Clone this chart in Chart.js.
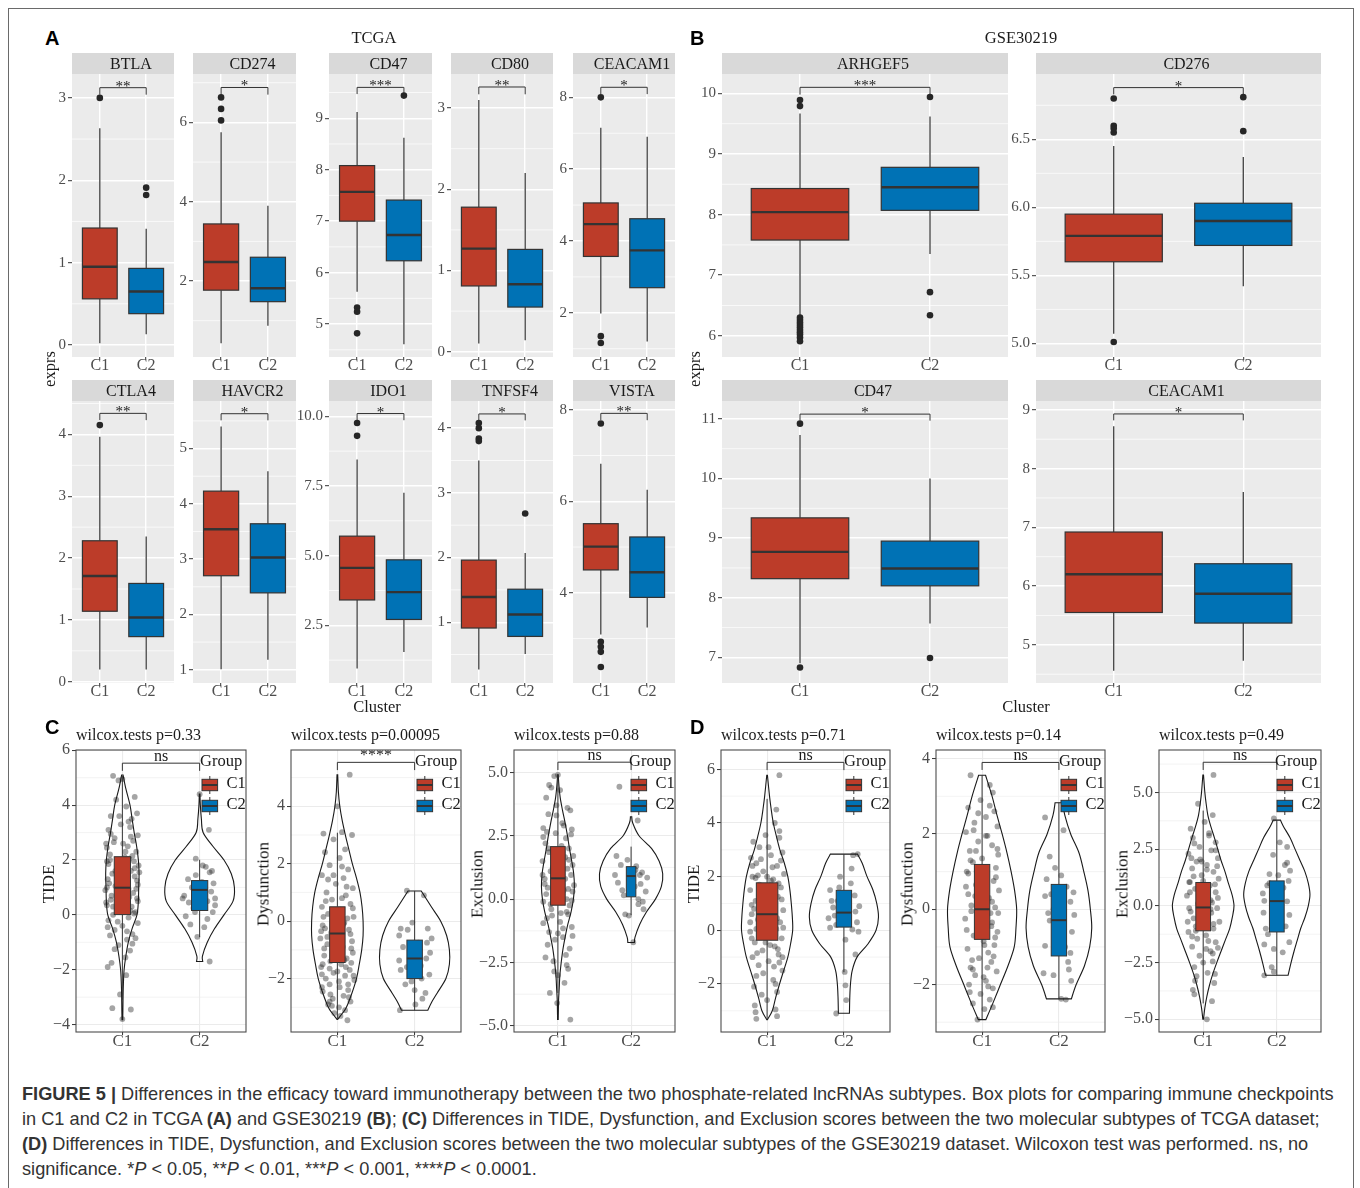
<!DOCTYPE html>
<html><head><meta charset="utf-8">
<script src="https://cdn.jsdelivr.net/npm/chart.js@4.4.1/dist/chart.umd.min.js"></script>
<style>
body{margin:0;width:1360px;height:1188px;background:#fff;position:relative;overflow:hidden;}
canvas{position:absolute;}
.t{position:absolute;white-space:nowrap;line-height:1;}
#frame{position:absolute;left:8px;top:8px;width:1346px;height:1200px;border:1.5px solid #6a6a6a;box-sizing:border-box;}
</style></head><body>
<div id="frame"></div>
<script>
// ================= DATA =================
const clusters = ['C1','C2'];
const clusterColors = ['#BC3C29','#0072B5'];

// ---- Panel A (TCGA) : box stats = [lower whisker, Q1, median, Q3, upper whisker]
const genesA = ['BTLA','CD274','CD47','CD80','CEACAM1','CTLA4','HAVCR2','IDO1','TNFSF4','VISTA'];
const boxA_C1 = [[0.02,0.56,0.95,1.42,2.63],[0.43,1.77,2.48,3.44,5.75],[5.63,7.0,7.57,8.08,9.12],[0.1,0.81,1.27,1.78,3.1],[1.98,3.57,4.47,5.06,7.15],
                 [0.2,1.14,1.71,2.28,3.96],[1.01,2.7,3.54,4.23,5.4],[0.95,3.41,4.56,5.7,8.45],[0.27,0.91,1.39,1.96,3.5],[3.09,4.5,5.01,5.51,6.82]];
const boxA_C2 = [[0.13,0.38,0.65,0.93,1.41],[0.87,1.48,1.82,2.6,3.9],[4.61,6.23,6.73,7.41,8.62],[0.14,0.55,0.83,1.26,2.2],[1.2,2.7,3.74,4.62,6.9],
                 [0.2,0.73,1.04,1.59,2.35],[1.18,2.39,3.03,3.64,4.59],[1.54,2.71,3.69,4.85,7.26],[0.51,0.78,1.12,1.51,2.07],[3.24,3.9,4.45,5.22,6.25]];
const outA_C1 = [[3.0],[6.63,6.34,6.05],[5.32,5.24,4.82],[],[8.0,1.35,1.16],[4.15],[],[9.76,9.3],[4.08,4.0,3.84,3.8],[7.7,2.93,2.82,2.71,2.38]];
const outA_C2 = [[1.91,1.82],[],[9.44],[],[],[],[],[],[2.68],[]];
const sigA = ['**','*','***','**','*','**','*','*','*','**'];
const rangeA = [[-0.146,3.29],[0.085,7.22],[4.36,9.86],[-0.065,3.42],[0.77,8.65],[-0.02,4.54],[0.76,5.86],[0.43,10.55],[0.06,4.42],[2.03,8.19]];
const ticksA = [[0,1,2,3],[2,4,6],[5,6,7,8,9],[0,1,2,3],[2,4,6,8],[0,1,2,3,4],[1,2,3,4,5],[2.5,5,7.5,10],[1,2,3,4],[4,6,8]];
const decA = [0,0,0,0,0,0,0,1,0,0];
const brkA = [[3.124,3.039],[6.88,6.70],[9.60,9.47],[3.26,3.17],[8.28,8.09],[4.34,4.23],[5.63,5.51],[10.10,9.86],[4.22,4.12],[7.92,7.77]];

// ---- Panel B (GSE30219)
const genesB = ['ARHGEF5','CD276','CD47','CEACAM1'];
const boxB_C1 = [[6.33,7.58,8.04,8.43,9.67],[5.07,5.6,5.79,5.95,6.45],[6.9,8.32,8.77,9.34,10.73],[4.56,5.55,6.2,6.92,8.72]];
const boxB_C2 = [[7.35,8.07,8.45,8.78,9.62],[5.42,5.72,5.9,6.03,6.37],[7.57,8.2,8.49,8.95,10.0],[4.73,5.37,5.87,6.38,7.6]];
const outB_C1 = [[9.89,9.79,6.3,6.26,6.22,6.18,6.14,6.1,6.06,6.02,5.97,5.91],[6.8,6.6,6.58,6.55,5.01],[10.92,6.83],[]];
const outB_C2 = [[9.94,6.72,6.34],[6.81,6.56],[6.99],[]];
const sigB = ['***','*','*','*'];
const rangeB = [[5.65,10.32],[4.9,6.98],[6.57,11.3],[4.35,9.15]];
const ticksB = [[6,7,8,9,10],[5,5.5,6,6.5],[7,8,9,10,11],[5,6,7,8,9]];
const decB = [0,1,0,0];
const brkB = [[10.10,9.98],[6.88,6.83],[11.08,10.97],[8.93,8.82]];

// ---- Panels C (TCGA) and D (GSE30219): TIDE / Dysfunction / Exclusion
const scores = ['TIDE','Dysfunction','Exclusion'];
const pvalC = ['0.33','0.00095','0.88'];
const pvalD = ['0.71','0.14','0.49'];
const sigC = ['ns','****','ns'];
const sigD = ['ns','ns','ns'];
const boxC_C1 = [[-3.1,0.01,0.99,2.12,5.06],[-3.42,-1.44,-0.43,0.5,3.08],[-3.7,-0.24,0.82,2.07,4.9]];
const boxC_C2 = [[-0.81,0.16,0.91,1.25,2.01],[-3.1,-2.0,-1.3,-0.66,1.05],[-0.63,0.09,0.91,1.28,2.07]];
const boxD_C1 = [[-3.33,-0.37,0.6,1.77,4.9],[-2.93,-0.8,0.0,1.19,3.56],[-4.3,-1.1,-0.07,1.03,4.2]];
const boxD_C2 = [[-1.56,0.12,0.66,1.49,2.84],[-2.38,-1.24,-0.29,0.66,2.83],[-3.06,-1.15,0.21,1.1,3.78]];

// violin density profiles: [score value, relative density 0..1]
const densC_C1 = [
 [[5.1,0.02],[4.6,0.1],[4,0.22],[3.5,0.28],[3,0.34],[2.5,0.41],[2,0.46],[1.5,0.48],[1,0.47],[0.5,0.46],[0,0.42],[-0.5,0.28],[-1,0.17],[-1.5,0.1],[-2,0.05],[-2.5,0.03],[-3,0.02],[-3.5,0.015],[-3.82,0.01]],
 [[5.1,0.01],[4.5,0.03],[4,0.07],[3.5,0.14],[3,0.23],[2.5,0.33],[2,0.43],[1.5,0.55],[1,0.65],[0.5,0.71],[0,0.74],[-0.5,0.74],[-1,0.7],[-1.5,0.63],[-2,0.55],[-2.5,0.42],[-3,0.26],[-3.2,0.15],[-3.42,0.01]],
 [[4.9,0.01],[4.5,0.03],[4,0.07],[3.5,0.14],[3,0.22],[2.5,0.29],[2,0.35],[1.5,0.42],[1,0.48],[0.5,0.5],[0,0.47],[-0.5,0.4],[-1,0.3],[-1.5,0.22],[-2,0.15],[-2.5,0.1],[-3,0.06],[-3.5,0.04],[-4,0.02],[-4.75,0.01]]
];
const densC_C2 = [
 [[4.4,0.01],[4.0,0.02],[3.5,0.05],[3,0.1],[2.5,0.38],[2,0.7],[1.5,0.91],[1,1.0],[0.5,0.96],[0,0.7],[-0.5,0.43],[-1,0.22],[-1.5,0.08],[-1.7,0.09]],
 [[1.05,0.19],[0.5,0.48],[0,0.75],[-0.5,0.92],[-1,1.0],[-1.5,1.0],[-2,0.9],[-2.5,0.65],[-2.8,0.5],[-3.1,0.38]],
 [[3.25,0.02],[3,0.05],[2.5,0.24],[2,0.62],[1.5,0.85],[1,0.96],[0.5,0.92],[0,0.74],[-0.5,0.47],[-1,0.26],[-1.5,0.12],[-1.71,0.1]]
];
const densD_C1 = [
 [[5.78,0.01],[5,0.07],[4.5,0.12],[4,0.18],[3.5,0.27],[3,0.37],[2.5,0.5],[2,0.6],[1.5,0.66],[1,0.7],[0.5,0.73],[0,0.74],[-0.5,0.68],[-1,0.6],[-1.5,0.48],[-2,0.36],[-2.5,0.25],[-3,0.15],[-3.33,0.01]],
 [[3.56,0.1],[3,0.29],[2.5,0.43],[2,0.58],[1.5,0.72],[1,0.84],[0.5,0.94],[0,1.0],[-0.5,0.98],[-1,0.93],[-1.5,0.75],[-2,0.53],[-2.5,0.31],[-2.93,0.11]],
 [[5.77,0.01],[5,0.05],[4.5,0.09],[4,0.14],[3.5,0.23],[3,0.34],[2.5,0.44],[2,0.54],[1.5,0.66],[1,0.76],[0.5,0.87],[0,0.93],[-0.5,0.88],[-1,0.8],[-1.5,0.67],[-2,0.54],[-2.5,0.41],[-3,0.29],[-3.5,0.19],[-4,0.11],[-4.5,0.05],[-5,0.01]]
];
const densD_C2 = [
 [[2.84,0.39],[2.5,0.53],[2,0.67],[1.5,0.84],[1,0.95],[0.5,1.0],[0,0.93],[-0.5,0.7],[-1,0.38],[-1.5,0.24],[-2,0.19],[-2.5,0.17],[-3.09,0.16]],
 [[2.83,0.11],[2.5,0.17],[2,0.34],[1.5,0.58],[1,0.72],[0.5,0.84],[0,0.91],[-0.5,0.95],[-1,0.89],[-1.5,0.74],[-2,0.5],[-2.38,0.36]],
 [[3.78,0.11],[3.5,0.2],[3,0.4],[2.5,0.55],[2,0.7],[1.5,0.85],[1,0.95],[0.5,1.0],[0,0.95],[-0.5,0.85],[-1,0.72],[-1.5,0.62],[-2,0.52],[-2.5,0.43],[-3.06,0.34]]
];

// jittered samples: [horizontal jitter offset, score]
const jitC_C1 = [
 [[-0.12,5.07],[-0.05,4.9],[0.0,4.95],[0.16,4.3],[0.19,3.7],[-0.15,3.6],[0.12,3.5],[0.05,3.95],[-0.08,4.2],[0.1,3.2],[-0.18,3.1],[0.2,2.9],[-0.02,3.3],[0.14,2.7],[-0.21,2.6],[-0.1,2.8],[0.07,2.5],[0.18,2.3],[-0.16,2.2],[0.03,2.1],[-0.2,1.95],[0.21,1.8],[-0.06,1.7],[0.11,1.6],[-0.13,1.5],[0.16,1.4],[-0.19,1.3],[0.02,1.25],[0.2,1.1],[-0.09,1.05],[0.08,0.95],[-0.22,0.9],[0.14,0.8],[-0.03,0.75],[0.19,0.6],[-0.15,0.55],[0.05,0.45],[-0.2,0.35],[0.12,0.3],[-0.07,0.2],[0.17,0.1],[-0.12,0.0],[0.08,-0.1],[-0.18,-0.2],[0.2,-0.3],[0.0,-0.4],[-0.1,-0.55],[0.13,-0.7],[-0.16,-0.75],[0.06,-0.9],[0.17,-0.85],[-0.05,-1.1],[0.1,-1.3],[-0.19,-1.9],[-0.14,-1.75],[0.04,-1.55],[-0.03,-2.9],[-0.13,-3.4],[0.11,-3.45],[0.0,-3.8],[-0.2,2.45],[0.22,1.55],[-0.17,1.15],[0.09,2.05],[-0.04,0.6],[0.15,1.95],
  [0.04,2.3],[-0.11,2.65],[0.13,2.15],[-0.18,1.85],[0.07,1.45],[-0.02,1.9],[0.19,1.25],[-0.14,0.7],[0.1,0.15],[-0.21,0.45],[0.15,0.05],[-0.06,-0.25],[0.02,0.95],[-0.09,1.6],[0.18,0.95],[-0.16,2.0],[0.11,2.85],[-0.04,3.6],[0.08,3.4],[-0.12,0.3],[0.2,0.5],[-0.19,-0.45],[0.06,-0.6],[0.13,-1.05],[-0.07,1.35],[0.01,2.6],[-0.2,1.0],[0.16,1.7],[-0.1,-1.25],[0.05,-2.2],[-0.15,2.95],[0.09,0.65]],
 [[0.16,5.1],[0.0,4.0],[-0.18,3.05],[0.19,3.0],[0.06,3.1],[-0.05,2.85],[-0.16,2.4],[0.1,2.5],[0.03,2.2],[-0.1,1.95],[0.14,1.8],[-0.2,1.6],[0.08,1.5],[-0.02,1.3],[0.2,1.15],[-0.14,1.0],[0.11,0.9],[-0.07,0.75],[0.17,0.6],[-0.2,0.5],[0.04,0.4],[-0.12,0.25],[0.21,0.15],[-0.04,0.05],[0.09,-0.05],[-0.19,-0.15],[0.15,-0.3],[-0.08,-0.4],[0.02,-0.5],[-0.22,-0.6],[0.19,-0.7],[-0.13,-0.8],[0.07,-0.9],[-0.03,-1.0],[0.2,-1.1],[-0.17,-1.2],[0.12,-1.3],[-0.09,-1.4],[0.05,-1.5],[-0.21,-1.6],[0.16,-1.7],[-0.05,-1.8],[0.1,-1.9],[-0.15,-2.0],[0.22,-2.05],[-0.1,-2.2],[0.03,-2.3],[0.14,-2.4],[-0.19,-2.45],[0.08,-2.6],[-0.06,-2.7],[0.17,-2.8],[-0.12,-2.9],[0.02,-3.0],[0.1,-3.1],[-0.04,-3.2],[0.13,-3.45],[-0.16,-0.25],[0.06,0.8],[-0.1,-1.65],[0.18,-1.45],[-0.2,-2.3],
  [0.05,-0.2],[-0.13,-0.55],[0.18,-0.95],[-0.06,-1.25],[0.11,-1.6],[-0.2,-1.85],[0.02,-2.1],[-0.09,-2.55],[0.15,-2.65],[-0.17,-0.95],[0.08,-0.1],[-0.02,0.3],[0.2,0.45],[-0.15,0.7],[0.12,1.2],[-0.05,1.6],[0.06,1.9],[-0.19,-1.5],[0.14,-2.2],[-0.1,-2.8],[0.0,-1.75],[0.17,-0.45],[-0.21,-0.35],[0.09,-1.35],[-0.07,-2.95],[0.21,-1.9],[-0.12,1.45],[0.04,-3.3],[0.13,0.1],[-0.18,0.15]],
 [[0.0,4.9],[-0.05,4.85],[-0.12,4.5],[-0.09,4.4],[0.03,4.3],[-0.16,4.0],[0.13,3.6],[0.17,3.5],[-0.13,3.35],[0.06,3.0],[-0.2,2.8],[0.19,2.75],[-0.03,2.6],[0.11,2.4],[-0.17,2.2],[0.15,2.0],[-0.07,1.9],[0.21,1.7],[-0.21,1.5],[0.05,1.4],[0.13,1.2],[-0.1,1.1],[0.18,0.95],[-0.18,0.8],[0.02,0.7],[0.22,0.55],[-0.14,0.45],[0.08,0.35],[0.2,0.3],[-0.05,0.15],[0.12,0.0],[-0.2,-0.1],[0.16,-0.25],[-0.09,-0.4],[0.14,-0.6],[-0.15,-0.75],[0.03,-0.9],[0.19,-1.1],[-0.12,-1.3],[0.07,-1.5],[-0.14,-1.8],[-0.17,-2.3],[0.12,-2.6],[0.14,-2.75],[-0.05,-2.85],[-0.11,-3.7],[0.09,-3.3],[0.0,-3.0],[0.17,-4.75],[-0.01,-4.1],[0.1,1.65],[-0.2,2.45],[0.04,-0.55],[-0.02,3.3],[0.2,-1.45],
  [0.05,2.1],[-0.12,1.85],[0.15,1.55],[-0.07,1.25],[0.1,0.8],[-0.18,0.6],[0.02,0.25],[0.19,-0.05],[-0.1,-0.2],[0.12,-0.5],[-0.2,-0.95],[0.07,-1.15],[-0.04,-1.6],[0.16,-1.95],[-0.15,2.65],[0.08,2.9],[-0.02,3.7],[0.2,1.35],[-0.21,0.95],[0.03,1.05],[-0.08,-0.65],[0.14,0.4],[-0.13,2.0],[0.11,-2.2],[-0.06,-2.45],[0.18,2.55],[-0.16,0.2],[0.0,-1.35]]
];
const jitC_C2 = [
 [[0.12,3.1],[0.0,4.4],[-0.05,2.05],[0.08,1.75],[0.13,1.55],[-0.15,1.3],[0.18,1.15],[-0.1,1.0],[0.05,0.95],[0.15,0.85],[-0.2,0.7],[-0.22,0.6],[0.1,0.5],[0.2,0.35],[-0.08,0.25],[0.17,0.1],[-0.18,-0.05],[-0.12,-0.35],[0.06,-0.45],[-0.03,-0.8],[0.13,-1.7],[0.2,0.6],[-0.05,1.45],[0.03,1.2],[-0.14,0.45],[0.16,1.6],[-0.06,0.1],[0.1,-0.15],[0.04,1.8]],
 [[-0.1,1.06],[0.12,0.9],[-0.18,-0.26],[-0.09,-0.3],[0.17,-0.26],[0.22,-0.6],[0.05,-0.75],[-0.2,-1.37],[0.15,-1.3],[-0.18,-1.7],[0.19,-1.86],[-0.12,-2.2],[0.0,-2.4],[0.01,-2.9],[-0.19,-3.1],[0.09,-2.0],[-0.05,-1.0],[0.2,-1.1],[-0.15,-0.9],[0.08,-1.55],[0.14,-2.5],[-0.03,-0.05],[0.06,-1.2],[-0.1,-1.6],[0.16,-0.75],[-0.04,-2.1],[0.1,-2.7],[-0.2,-0.5]],
 [[-0.16,4.43],[0.09,3.1],[-0.2,1.7],[-0.14,1.35],[0.15,1.05],[0.12,0.95],[-0.18,0.65],[-0.02,0.75],[0.05,0.5],[0.2,0.3],[-0.1,0.15],[0.16,-0.1],[0.17,-0.4],[-0.08,-0.6],[-0.03,-0.65],[0.1,-0.2],[0.03,-1.7],[0.22,0.85],[-0.22,0.95],[0.07,1.3],[0.06,1.15],[-0.12,0.35],[0.13,0.6],[-0.05,1.55],[0.1,0.0]]
];
const jitD_C1 = [
 [[0.16,5.78],[0.12,4.5],[0.1,4.0],[-0.18,3.3],[-0.02,3.55],[0.16,3.45],[-0.1,3.1],[0.2,2.9],[-0.21,2.7],[0.05,2.8],[-0.14,2.5],[0.13,2.4],[-0.05,2.2],[0.22,2.1],[-0.19,2.0],[0.08,1.9],[-0.1,1.7],[0.18,1.6],[-0.22,1.5],[0.02,1.4],[0.14,1.25],[-0.15,1.1],[0.09,1.0],[-0.04,0.9],[0.21,0.75],[-0.2,0.6],[0.06,0.5],[-0.12,0.4],[0.17,0.3],[-0.07,0.15],[0.12,0.05],[-0.22,-0.05],[0.03,-0.2],[0.19,-0.3],[-0.16,-0.45],[0.1,-0.6],[-0.06,-0.75],[0.15,-0.9],[-0.19,-1.0],[0.02,-1.15],[-0.11,-1.3],[0.2,-1.5],[-0.14,-1.7],[0.08,-1.85],[-0.17,-2.1],[0.13,-2.3],[0.0,-2.6],[-0.16,-2.8],[0.11,-2.95],[-0.15,-3.05],[-0.14,-3.3],[0.13,-3.2],[0.05,1.85],[-0.08,2.65],[0.16,-1.2],[-0.2,0.95],[0.04,0.55],[-0.02,-0.45],
  [0.07,2.35],[-0.12,2.05],[0.15,1.75],[-0.03,1.55],[0.19,1.15],[-0.17,0.8],[0.1,0.7],[-0.08,0.25],[0.21,0.1],[-0.2,-0.3],[0.04,-0.55],[0.14,-0.7],[-0.13,-0.85],[0.09,-1.35],[-0.05,-1.6],[0.18,2.6],[-0.19,2.4],[0.02,3.1],[-0.1,1.3],[0.13,0.45],[-0.15,1.95],[0.06,-0.05],[-0.01,1.05],[0.2,-1.0],[-0.22,0.3],[0.11,-2.0],[-0.07,-2.4],[0.16,3.7],[-0.14,0.05],[0.0,2.0]],
 [[-0.15,3.56],[0.1,3.3],[0.14,3.1],[-0.02,2.9],[-0.18,2.7],[0.16,2.6],[0.05,2.45],[-0.1,2.3],[0.2,2.2],[-0.21,2.05],[0.07,1.95],[-0.05,1.8],[0.13,1.7],[-0.16,1.55],[0.21,1.45],[0.0,1.35],[-0.12,1.25],[0.18,1.1],[-0.2,1.0],[0.04,0.9],[0.15,0.75],[-0.08,0.65],[0.22,0.5],[-0.18,0.4],[0.09,0.3],[-0.03,0.15],[0.17,0.05],[-0.14,-0.05],[0.06,-0.15],[-0.22,-0.25],[0.13,-0.35],[-0.06,-0.5],[0.2,-0.6],[-0.11,-0.7],[0.02,-0.85],[0.16,-0.95],[-0.19,-1.05],[0.08,-1.15],[-0.04,-1.3],[0.12,-1.4],[-0.15,-1.55],[0.19,-1.65],[-0.09,-1.75],[0.05,-1.9],[-0.17,-2.0],[0.14,-2.1],[-0.02,-2.25],[0.1,-2.4],[-0.12,-2.5],[0.03,-2.65],[-0.06,-2.93],[0.12,-0.45],[-0.08,1.55],[0.0,0.55],[-0.13,-1.35],[0.21,-0.1],
  [0.05,1.95],[-0.15,1.3],[0.18,0.85],[-0.09,0.35],[0.11,-0.1],[-0.2,-0.55],[0.03,-0.95],[0.15,-1.25],[-0.12,-1.6],[0.08,-2.05],[-0.05,2.55],[0.2,1.6],[-0.18,0.95],[0.13,0.2],[-0.02,-0.35],[0.07,-1.55],[-0.16,-2.2],[0.1,2.75],[-0.07,1.0],[0.17,-0.75],[-0.21,0.6],[0.02,-1.8],[-0.11,2.1],[0.14,-2.6],[0.0,-0.2],[-0.14,0.1]],
 [[0.14,5.77],[-0.07,4.5],[0.13,4.0],[-0.17,3.4],[0.02,3.7],[0.08,3.2],[-0.14,3.0],[0.17,2.8],[-0.05,2.6],[0.11,2.45],[-0.2,2.3],[0.2,2.1],[-0.09,1.95],[0.05,1.8],[-0.15,1.65],[0.14,1.5],[-0.02,1.35],[0.21,1.2],[-0.19,1.05],[0.09,0.9],[-0.11,0.75],[0.17,0.6],[-0.22,0.45],[0.03,0.3],[0.12,0.15],[-0.06,0.0],[0.19,-0.1],[-0.17,-0.25],[0.07,-0.4],[-0.13,-0.55],[0.22,-0.7],[-0.02,-0.85],[0.14,-1.0],[-0.2,-1.15],[0.04,-1.3],[-0.08,-1.45],[0.17,-1.6],[-0.15,-1.8],[0.1,-2.0],[-0.05,-2.2],[0.13,-2.45],[-0.12,-2.7],[0.06,-2.95],[0.16,-3.0],[-0.11,-3.3],[-0.14,-3.7],[-0.12,-3.9],[0.12,-4.2],[0.05,-5.0],[0.0,1.1],[-0.18,0.6],[0.1,-0.15],[-0.04,2.05],[0.2,-1.85],[-0.1,-0.9],
  [0.05,1.6],[-0.13,1.3],[0.16,0.95],[-0.04,0.55],[0.1,0.25],[-0.19,-0.1],[0.02,-0.45],[0.14,-0.8],[-0.1,-1.1],[0.07,-1.55],[-0.16,2.1],[0.19,1.75],[-0.07,0.1],[0.11,-0.3],[-0.21,-0.7],[0.04,-1.9],[0.17,2.45],[-0.12,2.75],[0.0,-2.5],[0.13,-2.1],[-0.05,0.85],[0.2,0.35],[-0.15,-1.35],[0.08,3.1],[-0.09,-3.1],[0.15,-3.4],[-0.02,1.95],[-0.18,1.05]]
];
const jitD_C2 = [
 [[0.18,2.84],[0.12,2.8],[-0.05,2.0],[0.09,1.75],[-0.18,1.5],[-0.08,1.1],[0.2,0.9],[0.14,1.3],[-0.14,0.85],[0.05,0.6],[-0.2,0.45],[0.17,0.3],[0.11,0.03],[-0.1,0.2],[0.02,-0.35],[-0.03,0.7],[0.15,-0.9],[0.01,-1.55],[0.02,-2.05],[0.03,-2.6],[-0.1,-3.1],[0.19,-0.05],[-0.16,1.1],[0.06,1.35],[-0.12,0.55],[0.15,0.7],[-0.06,1.6],[0.1,2.3],[-0.18,0.1]],
 [[-0.18,2.44],[0.06,2.1],[-0.12,1.4],[0.03,0.9],[-0.16,0.8],[0.19,0.45],[-0.18,0.35],[0.15,0.2],[-0.07,0.0],[-0.12,-0.3],[0.17,-0.6],[-0.18,-0.97],[0.15,-1.16],[-0.2,-1.7],[-0.07,-1.75],[0.13,-1.6],[0.03,-2.38],[0.09,-2.4],[0.1,0.6],[-0.03,-0.45],[0.2,-0.15],[0.12,-1.4],[0.05,-0.8],[-0.14,-0.1],[0.16,-1.9],[-0.05,1.1],[0.08,-1.0],[-0.1,0.4]],
 [[-0.04,3.85],[0.04,2.8],[0.14,2.6],[-0.05,2.25],[0.11,1.8],[0.18,1.55],[-0.1,1.4],[0.02,1.35],[0.16,1.1],[-0.19,0.55],[-0.17,0.22],[0.14,0.2],[0.17,-0.4],[-0.18,-0.3],[-0.12,-1.25],[0.17,-1.6],[-0.17,-1.7],[-0.04,-1.9],[0.08,-2.05],[-0.07,-2.7],[-0.17,-3.06],[-0.04,-2.9],[0.09,0.8],[-0.1,1.0],[0.06,0.45],[-0.13,0.9],[0.12,-0.9],[-0.06,-0.6],[0.14,1.9],[-0.15,-1.0]]
];
const rangeC = [[-4.27,6.01],[-3.86,5.96],[-5.24,5.88]];
const rangeD = [[-3.79,6.72],[-3.26,4.23],[-5.56,6.87]];
const ticksC = [[-4,-2,0,2,4,6],[-2,0,2,4],[-5,-2.5,0,2.5,5]];
const ticksD = [[-2,0,2,4,6],[-2,0,2,4],[-5,-2.5,0,2.5,5]];
const decCD = [0,0,1];
const brkC = [[5.53,5.25],[5.53,5.26],[5.4,5.09]];
const brkD = [[6.26,5.97],[3.9,3.7],[6.33,5.99]];

// ================= LAYOUT / STYLE =================
const SERIF = '"Liberation Serif","Times New Roman",serif';
const SANS = '"Liberation Sans",Arial,sans-serif';
const posA = [[72,174,74,357,53],[193,296,74,357,53],[329,432,74,357,53],[451,553,74,357,53],[573,675,74,357,53],
              [72,174,401,683,380],[193,296,401,683,380],[329,432,401,683,380],[451,553,401,683,380],[573,675,401,683,380]];
const posB = [[722,1008,74,357,53],[1036,1321,74,357,53],[722,1008,401,683,380],[1036,1321,401,683,380]];
const posC = [[76,246],[291,461],[514,675]];
const posD = [[721,890],[936,1105],[1159,1321]];
const CD_TOP = 750, CD_BOT = 1032;
const boxHalfC = [[0.105,0.105],[0.1,0.1],[0.1,0.065]];
const boxHalfD = [[0.14,0.1],[0.1,0.1],[0.1,0.1]];

function fmtTick(v,dec){ const s=Math.abs(v).toFixed(dec); return (v<0?'\u2212':'')+s; }
function minorOf(t,min,max){
  const out=[]; for(let i=0;i<t.length-1;i++) out.push((t[i]+t[i+1])/2);
  if(t.length>1){ const st=t[1]-t[0]; if(t[0]-st/2>min) out.unshift(t[0]-st/2); if(t[t.length-1]+st/2<max) out.push(t[t.length-1]+st/2); }
  return out;
}
function addCanvas(left,top,w,h){ const c=document.createElement('canvas'); c.width=Math.round(w); c.height=Math.round(h); c.style.left=left+'px'; c.style.top=top+'px'; document.body.appendChild(c); return c; }
function txt(s,x,y,o={}){
  const d=document.createElement('div'); d.className='t'; d.innerHTML=s;
  d.style.left=x+'px'; d.style.top=y+'px'; d.style.fontSize=(o.size||16)+'px';
  d.style.fontFamily=o.fam||SERIF; if(o.bold) d.style.fontWeight='bold';
  d.style.color=o.color||'#1a1a1a';
  const ax=o.align==='left'?'0':'-50%';
  d.style.transform='translate('+ax+',-50%)'+(o.rot?' rotate(-90deg)':'');
  document.body.appendChild(d); return d;
}
function xAxis(gridColor,gridW,size,PB){
  return {type:'linear',min:0.4,max:2.6,
    afterBuildTicks:s=>{s.ticks=[{value:1},{value:2}];},
    afterFit:s=>{s.height=PB;},
    grid:{color:gridColor,lineWidth:gridW,tickColor:'#333',tickLength:3,tickWidth:1},
    border:{display:false},
    ticks:{autoSkip:false,maxRotation:0,minRotation:0,padding:-2,color:'#4D4D4D',font:{family:SERIF,size:size,lineHeight:1},callback:v=>clusters[Math.round(v)-1]}};
}
function yAxis(range,ticks,dec,gridColor,gridW,size,PL){
  return {type:'linear',min:range[0],max:range[1],
    afterBuildTicks:s=>{s.ticks=ticks.map(v=>({value:v}));},
    afterFit:s=>{s.width=PL;},
    grid:{color:gridColor,lineWidth:gridW,tickColor:'#333',tickLength:4,tickWidth:1},
    border:{display:false},
    ticks:{padding:2,color:'#4D4D4D',font:{family:SERIF,size:size},callback:v=>fmtTick(v,dec)}};
}
function drawBox(ctx,x,y,cx,hw,st,fill,lw){
  const [lo,q1,md,q3,hi]=st;
  const X=x.getPixelForValue(cx), L=x.getPixelForValue(cx-hw), R=x.getPixelForValue(cx+hw);
  ctx.strokeStyle='#333'; ctx.lineWidth=lw;
  ctx.beginPath();
  ctx.moveTo(X,y.getPixelForValue(hi)); ctx.lineTo(X,y.getPixelForValue(q3));
  ctx.moveTo(X,y.getPixelForValue(q1)); ctx.lineTo(X,y.getPixelForValue(lo));
  ctx.stroke();
  const T=y.getPixelForValue(q3), B=y.getPixelForValue(q1);
  ctx.fillStyle=fill; ctx.fillRect(L,T,R-L,B-T); ctx.strokeRect(L,T,R-L,B-T);
  const M=y.getPixelForValue(md);
  ctx.lineWidth=lw*2; ctx.beginPath(); ctx.moveTo(L,M); ctx.lineTo(R,M); ctx.stroke();
}
function drawBracket(ctx,x,y,b,label,size,off){
  const y1=y.getPixelForValue(b[0]), y2=y.getPixelForValue(b[1]);
  const x1=x.getPixelForValue(1), x2=x.getPixelForValue(2);
  ctx.strokeStyle='#333'; ctx.lineWidth=1;
  ctx.beginPath(); ctx.moveTo(x1,y2); ctx.lineTo(x1,y1); ctx.lineTo(x2,y1); ctx.lineTo(x2,y2); ctx.stroke();
  ctx.fillStyle='#1a1a1a'; ctx.font=size+'px '+SERIF; ctx.textAlign='center'; ctx.textBaseline='alphabetic';
  ctx.fillText(label,(x1+x2)/2,y1+off);
}
function hline(ctx,a,p){ ctx.beginPath(); ctx.moveTo(a.left,p); ctx.lineTo(a.right,p); ctx.stroke(); }

// ---------- ggplot-style faceted box plot panel ----------
function boxPanel(id,name,pos,range,ticks,dec,s1,s2,o1,o2,brk,sig){
  const [l,r,t,b,st]=pos, PL=46, PR=4, PB=26;
  const c=addCanvas(l-PL,st,(r-l)+PL+PR,(b-st)+PB);
  const minor=minorOf(ticks,range[0],range[1]);
  const pts=[...o1.map(v=>({x:1,y:v})),...o2.map(v=>({x:2,y:v}))];
  const plug={id:'bx'+id,
    beforeDraw(ch){
      const {ctx,chartArea:a,scales:{y}}=ch;
      ctx.save();
      ctx.fillStyle='#EBEBEB'; ctx.fillRect(a.left,a.top,a.right-a.left,a.bottom-a.top);
      ctx.fillStyle='#D9D9D9'; ctx.fillRect(a.left,0,a.right-a.left,a.top);
      ctx.beginPath(); ctx.rect(a.left,0,a.right-a.left,a.top); ctx.clip();
      ctx.fillStyle='#1A1A1A'; ctx.font='16px '+SERIF; ctx.textAlign='center'; ctx.textBaseline='middle';
      ctx.fillText(name,(a.left+a.right)/2+8,a.top/2+1);
      ctx.restore();
      ctx.save(); ctx.strokeStyle='#FFFFFF'; ctx.lineWidth=0.7;
      minor.forEach(v=>hline(ctx,a,y.getPixelForValue(v)));
      ctx.restore();
    },
    beforeDatasetsDraw(ch){
      const {ctx,chartArea:a,scales:{x,y}}=ch;
      ctx.save(); ctx.beginPath(); ctx.rect(a.left,a.top,a.right-a.left,a.bottom-a.top); ctx.clip();
      drawBox(ctx,x,y,1,0.375,s1,clusterColors[0],1.2);
      drawBox(ctx,x,y,2,0.375,s2,clusterColors[1],1.2);
      drawBracket(ctx,x,y,brk,sig,15,3);
      ctx.restore();
    }};
  new Chart(c,{type:'scatter',
    data:{datasets:[{data:pts,pointRadius:3.3,pointHoverRadius:3.3,backgroundColor:'#262626',borderWidth:0}]},
    options:{responsive:false,animation:false,devicePixelRatio:1,events:[],
      layout:{padding:{top:t-st,right:PR,left:0,bottom:0}},
      plugins:{legend:{display:false},tooltip:{enabled:false}},
      scales:{x:xAxis('#FFFFFF',1.4,16,PB),y:yAxis(range,ticks,dec,'#FFFFFF',1.4,15,PL)}},
    plugins:[plug]});
}

// ---------- violin + box + jitter panel ----------
function catmull(ctx,p,first){
  if(first) ctx.moveTo(p[0][0],p[0][1]); else ctx.lineTo(p[0][0],p[0][1]);
  for(let i=0;i<p.length-1;i++){
    const p0=p[Math.max(i-1,0)], p1=p[i], p2=p[i+1], p3=p[Math.min(i+2,p.length-1)];
    ctx.bezierCurveTo(p1[0]+(p2[0]-p0[0])/6,p1[1]+(p2[1]-p0[1])/6,p2[0]-(p3[0]-p1[0])/6,p2[1]-(p3[1]-p1[1])/6,p2[0],p2[1]);
  }
}
function drawViolin(ctx,x,y,cx,prof){
  const u=x.getPixelForValue(1)-x.getPixelForValue(0);
  const X=x.getPixelForValue(cx);
  const left=prof.map(([v,w])=>[X-w*0.45*u,y.getPixelForValue(v)]);
  const right=prof.map(([v,w])=>[X+w*0.45*u,y.getPixelForValue(v)]).reverse();
  ctx.beginPath(); catmull(ctx,left,true); catmull(ctx,right,false); ctx.closePath();
  ctx.strokeStyle='#1a1a1a'; ctx.lineWidth=1.1; ctx.stroke();
}
function violinPanel(id,pos,range,ticks,dec,d1,d2,j1,j2,s1,s2,hw,brk,sig){
  const [l,r]=pos, t=CD_TOP, b=CD_BOT, PL=40, PR=4, PB=26, PT=12;
  const c=addCanvas(l-PL,t-PT,(r-l)+PL+PR,(b-t)+PT+PB);
  const minor=minorOf(ticks,range[0],range[1]);
  const pts=[...j1.map(([dx,v])=>({x:1+dx,y:v})),...j2.map(([dx,v])=>({x:2+dx,y:v}))];
  const plug={id:'vn'+id,
    beforeDraw(ch){
      const {ctx,chartArea:a,scales:{y}}=ch;
      ctx.save(); ctx.fillStyle='#FFFFFF'; ctx.fillRect(a.left,a.top,a.right-a.left,a.bottom-a.top);
      ctx.strokeStyle='#EBEBEB'; ctx.lineWidth=0.6;
      minor.forEach(v=>hline(ctx,a,y.getPixelForValue(v)));
      ctx.restore();
    },
    beforeDatasetsDraw(ch){
      const {ctx,chartArea:a,scales:{x,y}}=ch;
      ctx.save(); ctx.beginPath(); ctx.rect(a.left,a.top,a.right-a.left,a.bottom-a.top); ctx.clip();
      drawViolin(ctx,x,y,1,d1); drawViolin(ctx,x,y,2,d2);
      ctx.restore();
    },
    afterDatasetsDraw(ch){
      const {ctx,chartArea:a,scales:{x,y}}=ch;
      ctx.save(); ctx.beginPath(); ctx.rect(a.left,a.top,a.right-a.left,a.bottom-a.top); ctx.clip();
      drawBox(ctx,x,y,1,hw[0],s1,clusterColors[0],1);
      drawBox(ctx,x,y,2,hw[1],s2,clusterColors[1],1);
      drawBracket(ctx,x,y,brk,sig,16,-2);
      ctx.restore();
      ctx.save();
      ctx.strokeStyle='#4D4D4D'; ctx.lineWidth=1.1; ctx.strokeRect(a.left,a.top,a.right-a.left,a.bottom-a.top);
      // legend
      ctx.fillStyle='#1a1a1a'; ctx.font='16.5px '+SERIF; ctx.textAlign='left'; ctx.textBaseline='middle';
      ctx.fillText('Group',a.right-46,a.top+12);
      [[0,35],[1,56]].forEach(([k,cy])=>{
        const kx=a.right-44, kw=15.6, kc=kx+kw/2, yy=a.top+cy;
        ctx.strokeStyle='#333'; ctx.lineWidth=1;
        ctx.beginPath(); ctx.moveTo(kc,yy-9); ctx.lineTo(kc,yy+9); ctx.stroke();
        ctx.fillStyle=clusterColors[k]; ctx.fillRect(kx,yy-5.7,kw,11.4); ctx.strokeRect(kx,yy-5.7,kw,11.4);
        ctx.lineWidth=2; ctx.beginPath(); ctx.moveTo(kx,yy); ctx.lineTo(kx+kw,yy); ctx.stroke();
        ctx.fillStyle='#1a1a1a'; ctx.font='16.5px '+SERIF; ctx.fillText(clusters[k],a.right-19.5,yy-1);
      });
      ctx.restore();
    }};
  new Chart(c,{type:'scatter',
    data:{datasets:[{data:pts,pointRadius:2.9,pointHoverRadius:2.9,backgroundColor:'rgba(30,30,30,0.4)',borderWidth:0}]},
    options:{responsive:false,animation:false,devicePixelRatio:1,events:[],
      layout:{padding:{top:PT,right:PR,left:0,bottom:0}},
      plugins:{legend:{display:false},tooltip:{enabled:false}},
      scales:{x:xAxis('#EBEBEB',1.1,17,PB),y:yAxis(range,ticks,dec,'#EBEBEB',1.1,16,PL)}},
    plugins:[plug]});
}

// ================= BUILD =================
genesA.forEach((g,i)=>boxPanel('A'+i,g,posA[i],rangeA[i],ticksA[i],decA[i],boxA_C1[i],boxA_C2[i],outA_C1[i],outA_C2[i],brkA[i],sigA[i]));
genesB.forEach((g,i)=>boxPanel('B'+i,g,posB[i],rangeB[i],ticksB[i],decB[i],boxB_C1[i],boxB_C2[i],outB_C1[i],outB_C2[i],brkB[i],sigB[i]));
scores.forEach((s,i)=>{
  violinPanel('C'+i,posC[i],rangeC[i],ticksC[i],decCD[i],densC_C1[i],densC_C2[i],jitC_C1[i],jitC_C2[i],boxC_C1[i],boxC_C2[i],boxHalfC[i],brkC[i],sigC[i]);
  violinPanel('D'+i,posD[i],rangeD[i],ticksD[i],decCD[i],densD_C1[i],densD_C2[i],jitD_C1[i],jitD_C2[i],boxD_C1[i],boxD_C2[i],boxHalfD[i],brkD[i],sigD[i]);
});

// texts
txt('A',45,38,{fam:SANS,bold:true,size:20,align:'left',color:'#000'});
txt('B',690,38,{fam:SANS,bold:true,size:20,align:'left',color:'#000'});
txt('C',45,727,{fam:SANS,bold:true,size:20,align:'left',color:'#000'});
txt('D',690,727,{fam:SANS,bold:true,size:20,align:'left',color:'#000'});
txt('TCGA',374,38,{size:16.5});
txt('GSE30219',1021,38,{size:16.5});
txt('exprs',50,369,{size:16.5,rot:true});
txt('exprs',695,369,{size:16.5,rot:true});
txt('Cluster',377,707,{size:16.5});
txt('Cluster',1026,707,{size:16.5});
const ytitleX_C=[47.5,263.3,477.3], ytitleX_D=[693.3,907.3,1122.3];
scores.forEach((s,i)=>{
  txt('wilcox.tests p='+pvalC[i],posC[i][0],735,{size:16,align:'left'});
  txt('wilcox.tests p='+pvalD[i],posD[i][0],735,{size:16,align:'left'});
  txt(s,ytitleX_C[i],884,{size:17,rot:true});
  txt(s,ytitleX_D[i],884,{size:17,rot:true});
});

// caption
const capLines=[
 '<b>FIGURE 5 |</b> Differences in the efficacy toward immunotherapy between the two phosphate-related lncRNAs subtypes. Box plots for comparing immune checkpoints',
 'in C1 and C2 in TCGA <b>(A)</b> and GSE30219 <b>(B)</b>; <b>(C)</b> Differences in TIDE, Dysfunction, and Exclusion scores between the two molecular subtypes of TCGA dataset;',
 '<b>(D)</b> Differences in TIDE, Dysfunction, and Exclusion scores between the two molecular subtypes of the GSE30219 dataset. Wilcoxon test was performed. ns, no',
 'significance. *<i>P</i> &lt; 0.05, **<i>P</i> &lt; 0.01, ***<i>P</i> &lt; 0.001, ****<i>P</i> &lt; 0.0001.'
];
const capEls=capLines.map((s,i)=>txt(s,22,1094+25*i,{fam:SANS,size:17,align:'left',color:'#333'}));
const w0=capEls[0].getBoundingClientRect().width;
const fs=17*1313/w0;
capEls.forEach(e=>e.style.fontSize=fs+'px');
</script>
</body></html>
